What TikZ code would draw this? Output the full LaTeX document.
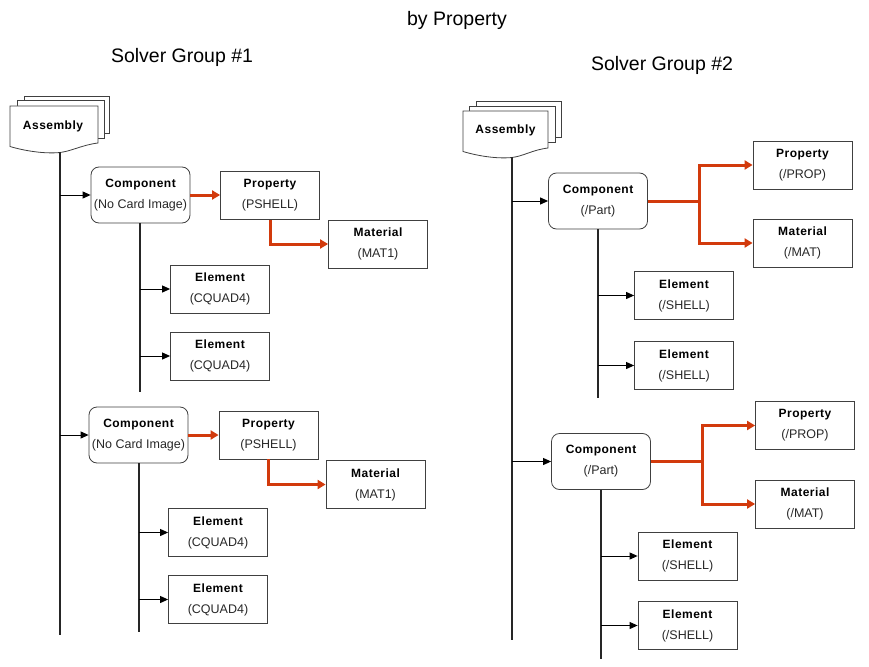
\documentclass[tikz,border=0pt]{standalone}
\usepackage{fontspec}
\setmainfont{Liberation Sans}
\newfontfamily\spacedbold[LetterSpace=4]{Liberation Sans}
\usetikzlibrary{arrows.meta}
\definecolor{boxc}{RGB}{64,64,64}
\definecolor{txtc}{RGB}{40,40,40}
\definecolor{redc}{RGB}{210,58,12}
\newcommand{\bxfont}{\fontsize{12.5}{21}\selectfont\color{txtc}}
\newcommand{\hd}[1]{{\spacedbold\bfseries\fontsize{12}{21}\selectfont\color{black}#1}}
\tikzset{
  box/.style={draw=boxc, line width=0.8pt, fill=white, minimum width=99pt, minimum height=48pt,
              inner sep=0pt, align=center, font=\bxfont},
  rbox/.style={box, rounded corners=8pt, minimum height=56pt},
  sheet/.style={draw=boxc, line width=0.8pt, fill=white},
  trunk/.style={line width=1.4pt, draw=black!85},
  arr/.style={line width=1pt, draw=black, -{Triangle[length=8pt,width=7pt]}},
  redarr/.style={line width=3pt, draw=redc, line join=miter, -{Triangle[length=8pt,width=9pt]}},
  redline/.style={line width=3pt, draw=redc},
  ttl/.style={font=\fontsize{19.5}{22}\selectfont, text=black, inner sep=0pt},
  asmtext/.style={font=\spacedbold\bfseries\fontsize{12}{14}\selectfont, text=black, inner sep=0pt}
}
\begin{document}
\begin{tikzpicture}[x=1pt,y=-1pt]
\path[use as bounding box] (0,0) rectangle (869,666);

% titles
\node[ttl] (title) at (457,20) {by Property};
\node[ttl] (sg1) at (182,57) {Solver Group \#1};
\node[ttl] (sg2) at (662,65) {Solver Group \#2};

% ---------- Solver group 1 ----------
\draw[sheet] (24,96) rectangle (109,133);
\draw[sheet] (17,100) rectangle (104,138);
\draw[sheet] (10,106) -- (98,106) -- (98,143) .. controls (82,145) and (72,151) .. (60,152.5)
  .. controls (45,154) and (25,151) .. (10,146.5) -- cycle;
\node[asmtext] (asm1) at (53,126) {Assembly};

\coordinate (t1top) at (60,152);
\coordinate (t1bot) at (60,635);
\draw[trunk] (t1top) -- (t1bot);

\node[rbox] (comp1a) at (140.5,195) {\hd{Component}\\(No Card Image)};
\node[box]  (prop1a) at (270,195.5) {\hd{Property}\\(PSHELL)};
\node[box]  (mat1a)  at (378,244) {\hd{Material}\\(MAT1)};
\node[box]  (el1a)   at (220,289) {\hd{Element}\\(CQUAD4)};
\node[box]  (el1b)   at (220,356) {\hd{Element}\\(CQUAD4)};

\draw[arr] (t1top |- comp1a.west) -- (comp1a.west);
\draw[redarr] (comp1a.east) -- (prop1a.west |- comp1a.east);
\draw[redarr] (prop1a.south) |- (mat1a.west);
\coordinate (c1abot) at (140,392);
\draw[trunk] (comp1a.south -| c1abot) -- (c1abot);
\draw[arr] (c1abot |- el1a.west) -- (el1a.west);
\draw[arr] (c1abot |- el1b.west) -- (el1b.west);

\node[rbox] (comp1b) at (138.5,435) {\hd{Component}\\(No Card Image)};
\node[box]  (prop1b) at (268.5,435) {\hd{Property}\\(PSHELL)};
\node[box]  (mat1b)  at (375.5,484.5) {\hd{Material}\\(MAT1)};
\node[box]  (el1c)   at (218,532.5) {\hd{Element}\\(CQUAD4)};
\node[box]  (el1d)   at (218,599.5) {\hd{Element}\\(CQUAD4)};

\draw[arr] (t1top |- comp1b.west) -- (comp1b.west);
\draw[redarr] (comp1b.east) -- (prop1b.west);
\draw[redarr] (prop1b.south) |- (mat1b.west);
\coordinate (c1bbot) at (139,632);
\draw[trunk] (comp1b.south -| c1bbot) -- (c1bbot);
\draw[arr] (c1bbot |- el1c.west) -- (el1c.west);
\draw[arr] (c1bbot |- el1d.west) -- (el1d.west);

% ---------- Solver group 2 ----------
\draw[sheet] (476,101) rectangle (561,137);
\draw[sheet] (469,106) rectangle (555,142);
\draw[sheet] (463,111) -- (548,111) -- (548,148) .. controls (532,150) and (524,156) .. (512,157.5)
  .. controls (497,159) and (478,156) .. (463,151.5) -- cycle;
\node[asmtext] (asm2) at (505.5,130.5) {Assembly};

\coordinate (t2top) at (512,157);
\coordinate (t2bot) at (512,640);
\draw[trunk] (t2top) -- (t2bot);

\node[rbox] (comp2a) at (598,201) {\hd{Component}\\(/Part)};
\node[box]  (prop2a) at (802.5,165) {\hd{Property}\\(/PROP)};
\node[box]  (mat2a)  at (802.5,243) {\hd{Material}\\(/MAT)};
\node[box]  (el2a)   at (684,295.5) {\hd{Element}\\(/SHELL)};
\node[box]  (el2b)   at (684,365.5) {\hd{Element}\\(/SHELL)};

\draw[arr] (t2top |- comp2a.west) -- (comp2a.west);
\coordinate (j2a) at (699,201);
\draw[redline] (comp2a.east) -- (j2a);
\draw[redarr] (j2a) |- (prop2a.west);
\draw[redarr] (j2a) |- (mat2a.west);
\coordinate (c2abot) at (598,398);
\draw[trunk] (comp2a.south) -- (c2abot);
\draw[arr] (c2abot |- el2a.west) -- (el2a.west);
\draw[arr] (c2abot |- el2b.west) -- (el2b.west);

\node[rbox] (comp2b) at (601,461.5) {\hd{Component}\\(/Part)};
\node[box]  (prop2b) at (805,425.5) {\hd{Property}\\(/PROP)};
\node[box]  (mat2b)  at (805,504) {\hd{Material}\\(/MAT)};
\node[box]  (el2c)   at (687.5,556) {\hd{Element}\\(/SHELL)};
\node[box]  (el2d)   at (687.5,625.5) {\hd{Element}\\(/SHELL)};

\draw[arr] (t2top |- comp2b.west) -- (comp2b.west);
\coordinate (j2b) at (702,461.5);
\draw[redline] (comp2b.east) -- (j2b);
\draw[redarr] (j2b) |- (prop2b.west);
\draw[redarr] (j2b) |- (mat2b.west);
\coordinate (c2bbot) at (601,659);
\draw[trunk] (comp2b.south) -- (c2bbot);
\draw[arr] (c2bbot |- el2c.west) -- (el2c.west);
\draw[arr] (c2bbot |- el2d.west) -- (el2d.west);
\end{tikzpicture}
\end{document}
